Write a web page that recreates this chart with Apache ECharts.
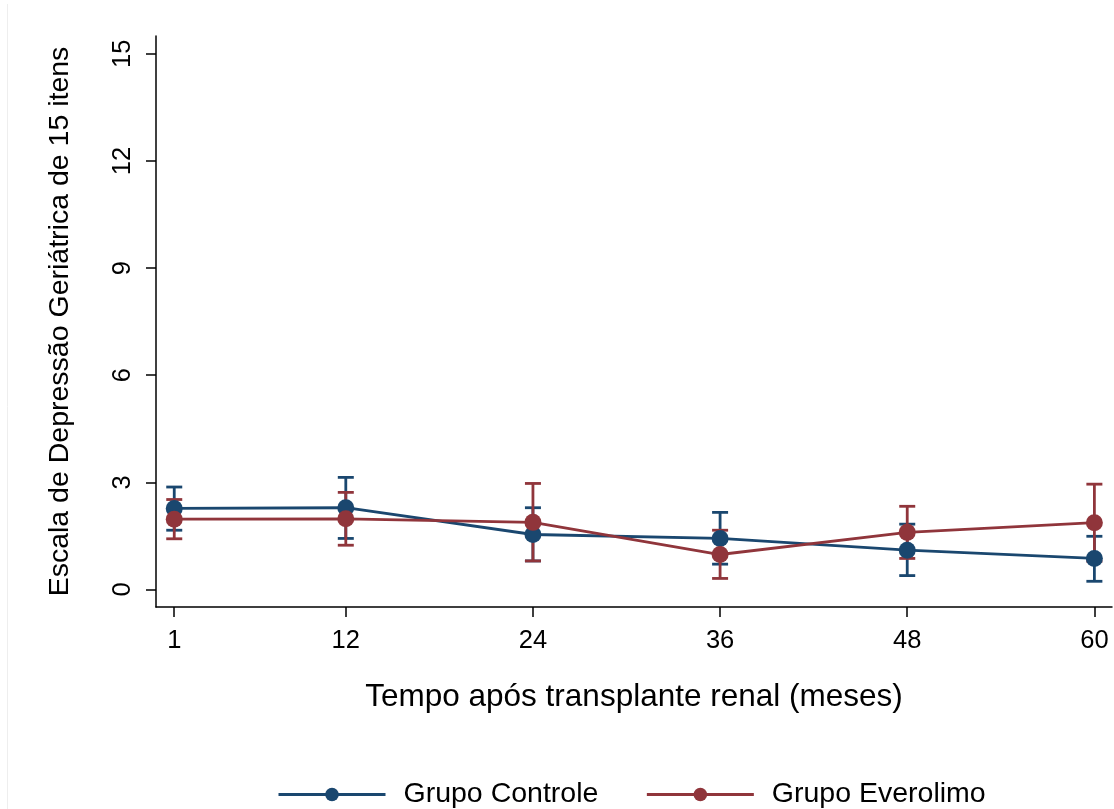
<!DOCTYPE html>
<html>
<head>
<meta charset="utf-8">
<script src="https://cdn.jsdelivr.net/npm/echarts@6/dist/echarts.min.js"></script>
<style>
html,body{margin:0;padding:0;background:#fff;}
#chart{width:1114px;height:809px;}
</style>
</head>
<body>
<div id="chart"></div>
<script>
const months = [1, 12, 24, 36, 48, 60];
const xTicks = [1, 12, 24, 36, 48, 60];
const yTicks = [0, 3, 6, 9, 12, 15];
const controleMean = [2.27, 2.29, 1.54, 1.43, 1.10, 0.87];
const controleLow  = [1.66, 1.43, 0.80, 0.71, 0.39, 0.23];
const controleHigh = [2.87, 3.14, 2.29, 2.16, 1.83, 1.49];
const everoMean = [1.97, 1.98, 1.88, 0.98, 1.60, 1.87];
const everoLow  = [1.42, 1.24, 0.80, 0.31, 0.87, 0.79];
const everoHigh = [2.52, 2.72, 2.97, 1.66, 2.33, 2.95];

const BLUE = '#1a476f';
const RED = '#90353b';
const FONT = 'Liberation Sans, Arial, Helvetica, sans-serif';

function errSeries(name, color, lo, hi) {
  return {
    type: 'custom',
    name: name + ' IC',
    data: months.map((m, i) => [m, lo[i], hi[i]]),
    encode: { x: 0, y: [1, 2] },
    silent: true,
    renderItem: function (params, api) {
      const x = api.value(0);
      const pLo = api.coord([x, api.value(1)]);
      const pHi = api.coord([x, api.value(2)]);
      const hw = 8;
      const style = { stroke: color, lineWidth: 2.8, fill: null };
      return {
        type: 'group',
        children: [
          { type: 'line', shape: { x1: pLo[0], y1: pLo[1], x2: pHi[0], y2: pHi[1] }, style: style },
          { type: 'line', shape: { x1: pLo[0] - hw, y1: pLo[1], x2: pLo[0] + hw, y2: pLo[1] }, style: style },
          { type: 'line', shape: { x1: pHi[0] - hw, y1: pHi[1], x2: pHi[0] + hw, y2: pHi[1] }, style: style }
        ]
      };
    }
  };
}

function lineSeries(name, color, vals) {
  return {
    type: 'line',
    name: name,
    data: months.map((m, i) => [m, vals[i]]),
    symbol: 'circle',
    symbolSize: 17,
    showSymbol: true,
    lineStyle: { color: color, width: 2.8 },
    itemStyle: { color: color },
    emphasis: { disabled: true },
    animation: false
  };
}

const chart = echarts.init(document.getElementById('chart'), null, { renderer: 'canvas' });
chart.setOption({
  animation: false,
  backgroundColor: '#ffffff',
  textStyle: { fontFamily: FONT },
  grid: { left: 156, right: 2, top: 36, bottom: 202, containLabel: false },
  xAxis: {
    type: 'value',
    min: -0.17,
    max: 61.13,
    name: 'Tempo após transplante renal (meses)',
    nameLocation: 'middle',
    nameGap: 74,
    nameTextStyle: { fontSize: 31.5, color: '#000', fontFamily: FONT },
    axisLine: { show: true, onZero: false, lineStyle: { color: '#000', width: 1.5 } },
    axisTick: { show: true, length: 10, customValues: xTicks, lineStyle: { color: '#000', width: 1.5 } },
    axisLabel: { customValues: xTicks, fontSize: 25.5, color: '#000', margin: 21, fontFamily: FONT },
    splitLine: { show: false }
  },
  yAxis: {
    type: 'value',
    min: -0.49,
    max: 15.5,
    name: 'Escala de Depressão Geriátrica de 15 itens',
    nameLocation: 'middle',
    nameRotate: 90,
    nameGap: 81,
    nameTextStyle: { fontSize: 28.5, color: '#000', fontFamily: FONT },
    axisLine: { show: true, onZero: false, lineStyle: { color: '#000', width: 1.5 } },
    axisTick: { show: true, length: 10, customValues: yTicks, lineStyle: { color: '#000', width: 1.5 } },
    axisLabel: { customValues: yTicks, fontSize: 25.5, color: '#000', margin: 20, rotate: 90, fontFamily: FONT },
    splitLine: { show: false }
  },
  legend: {
    data: ['Grupo Controle', 'Grupo Everolimo'],
    left: 277,
    top: 780,
    padding: 0,
    itemWidth: 107,
    itemHeight: 17,
    itemGap: 47,
    lineStyle: { width: 3 },
    textStyle: { fontSize: 28.5, color: '#000', fontFamily: FONT, padding: [0, 0, 0, 13] },
    selectedMode: false
  },
  graphic: [
    { type: 'line', shape: { x1: 7.5, y1: 4, x2: 7.5, y2: 809 }, style: { stroke: '#eeeeee', lineWidth: 1 }, silent: true }
  ],
  series: [
    errSeries('Grupo Controle', BLUE, controleLow, controleHigh),
    errSeries('Grupo Everolimo', RED, everoLow, everoHigh),
    lineSeries('Grupo Controle', BLUE, controleMean),
    lineSeries('Grupo Everolimo', RED, everoMean)
  ]
});
</script>
</body>
</html>
